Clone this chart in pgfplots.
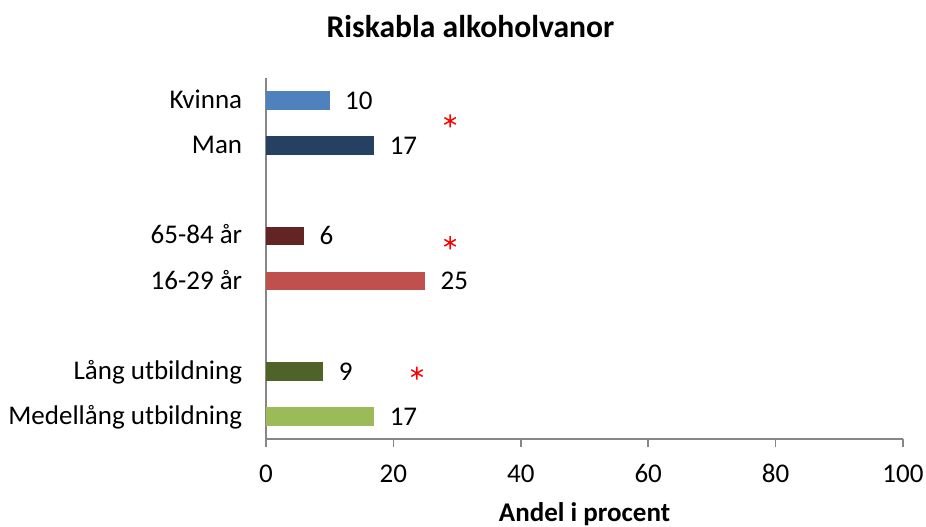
\documentclass[border=0pt]{standalone}
\usepackage{pgfplots}
\pgfplotsset{compat=1.18}
\usepackage{fontspec}
\setmainfont{Carlito}
\definecolor{cKvinna}{HTML}{4F81BD}
\definecolor{cMan}{HTML}{254061}
\definecolor{cOld}{HTML}{632523}
\definecolor{cYoung}{HTML}{C0504D}
\definecolor{cLang}{HTML}{4F6228}
\definecolor{cMed}{HTML}{9BBB59}
\definecolor{axgray}{HTML}{868686}
\begin{document}
\begin{tikzpicture}[font=\fontsize{13.5}{16.2}\selectfont]
\path[use as bounding box] (-133pt,-43.5pt) rectangle (330pt,219.5pt);
\begin{axis}[
  scale only axis,
  width=318.5pt, height=180.5pt,
  xmin=0, xmax=100, ymin=-0.5, ymax=7.5,
  enlargelimits=false,
  axis x line=bottom, axis y line=left,
  axis line style={-, draw=axgray, line width=0.75pt},
  xtick={0,20,40,60,80,100},
  x tick style={draw=axgray, line width=0.75pt},
  tick align=outside,
  major tick length=4pt,
  ytick={0,1,3,4,6,7},
  yticklabels={Medellång utbildning, Lång utbildning, 16-29 år, 65-84 år, Man, Kvinna},
  y tick style={draw=none},
  /pgf/number format/assume math mode=true,
  xticklabel style={anchor=base, yshift=-17.5pt},
  yticklabel style={anchor=base east, yshift=-4pt, xshift=-4.4pt},
  every axis title shift=0pt,
  title={Riskabla alkoholvanor},
  title style={at={(axis description cs:0.321,1.1136)}, anchor=base, font=\fontsize{15.8}{19}\selectfont\bfseries},
  xlabel={Andel i procent},
  xlabel style={at={(axis description cs:0.5,-0.229)}, anchor=base, font=\fontsize{13.5}{16.2}\selectfont\bfseries},
  clip=false,
  mybar/.style={xbar, bar width=0.41, bar shift=0pt, draw=none, fill=#1,
    nodes near coords, nodes near coords align=horizontal,
    every node near coord/.append style={anchor=west, xshift=4.2pt, text=black, font=\fontsize{13.5}{16.2}\selectfont}},
]
\addplot[mybar=cKvinna] coordinates {(10,7)};
\addplot[mybar=cMan] coordinates {(17,6)};
\addplot[mybar=cOld] coordinates {(6,4)};
\addplot[mybar=cYoung] coordinates {(25,3)};
\addplot[mybar=cLang] coordinates {(9,1)};
\addplot[mybar=cMed] coordinates {(17,0)};
\addplot[only marks, mark=asterisk, mark size=3.3pt, red, mark options={line width=0.75pt}] coordinates {(28.9,6.55) (28.9,3.85) (23.7,0.96)};
\end{axis}
\end{tikzpicture}
\end{document}
